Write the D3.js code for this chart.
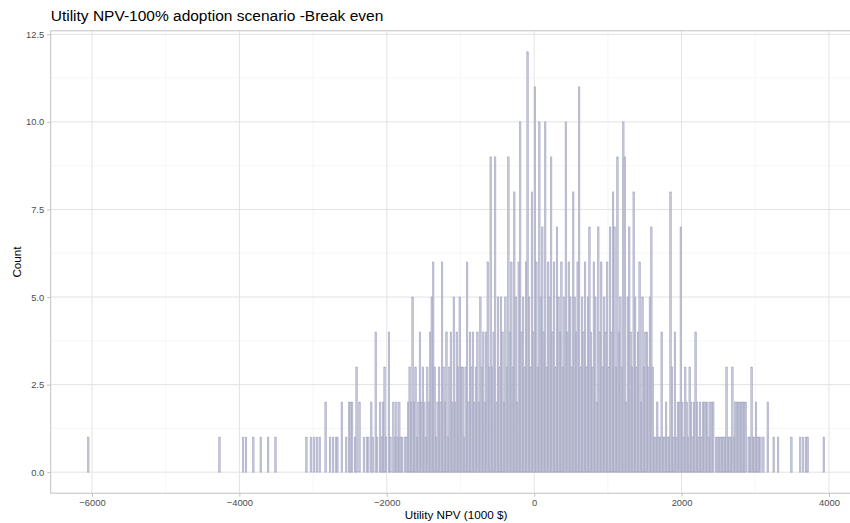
<!DOCTYPE html>
<html>
<head>
<meta charset="utf-8">
<script src="https://cdn.jsdelivr.net/npm/d3@7"></script>
<style>
  html, body { margin: 0; padding: 0; background: #ffffff; }
  svg { display: block; font-family: "Liberation Sans", Arial, Helvetica, sans-serif; }
</style>
</head>
<body>
<svg id="chart" width="850" height="523"></svg>
<script>
// Histogram of simulated utility NPV (thousand $), 20-unit bins starting at -6080
const binStart = -6080;
const binWidth = 20;
const counts = [
  0,1,0,0,0,0,0,0,0,0,0,0,0,0,0,0,0,0,0,0,   // -6080
  0,0,0,0,0,0,0,0,0,0,0,0,0,0,0,0,0,0,0,0,   // -5680
  0,0,0,0,0,0,0,0,0,0,0,0,0,0,0,0,0,0,0,0,   // -5280
  0,0,0,0,0,0,0,0,0,0,0,0,0,0,0,0,0,0,0,0,   // -4880
  0,0,0,0,0,0,0,0,0,0,1,0,0,0,0,0,0,0,0,0,   // -4480
  0,0,0,0,0,0,1,0,1,0,0,0,0,1,0,0,0,0,1,0,   // -4080
  0,0,0,1,0,0,0,0,1,0,0,0,0,0,0,0,0,0,0,0,   // -3680
  0,0,0,0,0,0,0,0,0,1,0,0,1,0,1,0,1,0,1,0,   // -3280
  0,0,2,0,0,1,0,1,0,1,1,0,0,2,0,0,1,0,2,2,   // -2880
  2,0,1,3,0,2,0,0,1,0,1,1,0,2,1,0,4,1,0,2,   // -2480
  1,2,3,1,0,4,1,0,2,1,2,1,2,1,1,0,1,1,2,3,   // -2080
  2,5,2,3,1,2,4,2,3,2,1,3,2,4,5,6,3,1,2,3,   // -1680
  2,6,3,2,4,1,3,4,2,5,2,4,3,5,3,3,1,3,6,2,   // -1280
  4,3,4,2,3,4,2,5,3,4,2,4,6,3,9,3,4,9,2,5,   // -880
  3,5,4,2,5,3,9,4,6,3,8,5,2,6,10,4,5,3,6,12, // -480
  5,3,8,4,11,6,3,10,5,7,4,10,3,6,5,9,4,6,3,7, // -80
  5,4,6,3,5,10,4,6,5,3,8,5,4,6,11,3,5,4,6,3, // 320
  5,7,4,3,6,5,2,7,4,6,3,5,4,6,3,7,4,8,7,3,   // 720
  9,4,5,3,10,9,2,5,7,4,3,8,5,3,4,6,2,5,3,4,  // 1120
  4,3,5,7,3,1,1,2,1,1,4,1,1,2,1,1,8,3,1,4,   // 1520
  1,2,2,7,2,1,3,2,1,3,2,1,2,4,2,1,2,1,2,2,   // 1920
  2,2,1,2,2,2,0,1,1,1,1,1,1,1,3,1,1,1,3,1,   // 2320
  2,2,2,2,2,2,2,2,0,1,1,3,1,1,2,1,1,1,0,1,   // 2720
  0,0,2,0,0,0,1,0,0,1,0,0,0,0,0,0,0,0,1,0,   // 3120
  0,0,0,0,1,0,1,0,1,1,0,0,0,0,0,0,0,0,0,0,   // 3520
  1                                           // 3920
];

const xTicks = [-6000, -4000, -2000, 0, 2000, 4000];
const xMinor = [-5000, -3000, -1000, 1000, 3000];
const yTicks = [0, 2.5, 5, 7.5, 10, 12.5];
const yMinor = [1.25, 3.75, 6.25, 8.75, 11.25];

const titleText = "Utility NPV-100% adoption scenario -Break even";
const xTitle = "Utility NPV (1000 $)";
const yTitle = "Count";

const bins = counts.map((c, i) => ({ x0: binStart + i * binWidth, x1: binStart + (i + 1) * binWidth, count: c }));
const filled = bins.filter(d => d.count > 0);

const panel = { left: 50.7, top: 30.8, bottom: 493.2, width: 810.7 };

// ggplot-style 5% expansion on both axes
const xLo = d3.min(filled, d => d.x0), xHi = d3.max(filled, d => d.x1);
const xPad = (xHi - xLo) * 0.05;
const yMax = d3.max(counts);
const yPad = yMax * 0.05;

const x = d3.scaleLinear().domain([xLo - xPad, xHi + xPad]).range([panel.left, panel.left + panel.width]);
const y = d3.scaleLinear().domain([-yPad, yMax + yPad]).range([panel.bottom, panel.top]);

const svg = d3.select("#chart");

svg.append("defs").append("clipPath").attr("id", "panel-clip")
  .append("rect").attr("x", panel.left).attr("y", panel.top)
  .attr("width", panel.width).attr("height", panel.bottom - panel.top);

const grid = svg.append("g");
grid.selectAll("line.ymin").data(yMinor).join("line")
  .attr("x1", panel.left).attr("x2", panel.left + panel.width)
  .attr("y1", d => y(d)).attr("y2", d => y(d))
  .attr("stroke", "#f0f0f0").attr("stroke-width", 0.6);
grid.selectAll("line.xmin").data(xMinor).join("line")
  .attr("y1", panel.top).attr("y2", panel.bottom)
  .attr("x1", d => x(d)).attr("x2", d => x(d))
  .attr("stroke", "#f0f0f0").attr("stroke-width", 0.6);
grid.selectAll("line.ymaj").data(yTicks).join("line")
  .attr("x1", panel.left).attr("x2", panel.left + panel.width)
  .attr("y1", d => y(d)).attr("y2", d => y(d))
  .attr("stroke", "#e3e3e3").attr("stroke-width", 1);
grid.selectAll("line.xmaj").data(xTicks).join("line")
  .attr("y1", panel.top).attr("y2", panel.bottom)
  .attr("x1", d => x(d)).attr("x2", d => x(d))
  .attr("stroke", "#e3e3e3").attr("stroke-width", 1);

// bars
svg.append("g").attr("clip-path", "url(#panel-clip)")
  .selectAll("rect").data(filled).join("rect")
  .attr("x", d => x(d.x0))
  .attr("width", d => x(d.x1) - x(d.x0))
  .attr("y", d => y(d.count))
  .attr("height", d => y(0) - y(d.count))
  .attr("fill", "#c9cbdc")
  .attr("stroke", "#a3a6c2")
  .attr("stroke-width", 0.6);

// panel border
svg.append("rect")
  .attr("x", panel.left).attr("y", panel.top)
  .attr("width", panel.width).attr("height", panel.bottom - panel.top)
  .attr("fill", "none").attr("stroke", "#c2c2c2").attr("stroke-width", 1);

// axes
const xAxis = d3.axisBottom(x).tickValues(xTicks).tickSize(3.5).tickPadding(3).tickFormat(d3.format("d"));
const yAxis = d3.axisLeft(y).tickValues(yTicks).tickSize(3.5).tickPadding(3).tickFormat(d3.format(".1f"));

const gx = svg.append("g").attr("transform", `translate(0,${panel.bottom})`).call(xAxis);
const gy = svg.append("g").attr("transform", `translate(${panel.left},0)`).call(yAxis);
[gx, gy].forEach(g => {
  g.select(".domain").remove();
  g.selectAll(".tick line").attr("stroke", "#c2c2c2");
  g.selectAll(".tick text").attr("fill", "#4d4d4d")
    .style("font-size", "9.4px")
    .style("font-family", "'Liberation Sans', Arial, Helvetica, sans-serif");
});

// titles
svg.append("text")
  .attr("x", panel.left).attr("y", 20.5)
  .attr("fill", "#000").style("font-size", "15.5px")
  .text(titleText);

svg.append("text")
  .attr("x", panel.left + panel.width / 2).attr("y", 519)
  .attr("text-anchor", "middle").attr("fill", "#000").style("font-size", "11.7px")
  .text(xTitle);

svg.append("text")
  .attr("transform", `translate(21,${(panel.top + panel.bottom) / 2}) rotate(-90)`)
  .attr("text-anchor", "middle").attr("fill", "#000").style("font-size", "11.7px")
  .text(yTitle);
</script>
</body>
</html>
